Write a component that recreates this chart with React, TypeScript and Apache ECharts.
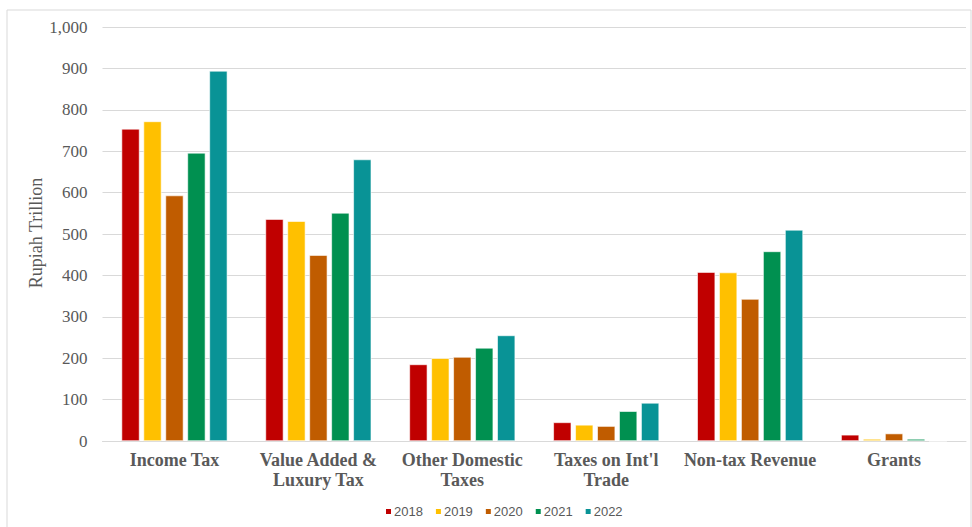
import React, { useEffect, useRef } from "react";
import * as echarts from "echarts";

const categories = [
  "Income Tax",
  "Value Added &\nLuxury Tax",
  "Other Domestic\nTaxes",
  "Taxes on Int'l\nTrade",
  "Non-tax Revenue",
  "Grants",
];
const years = ["2018", "2019", "2020", "2021", "2022"];
const v2018 = [754, 536, 185, 45, 408, 15];
const v2019 = [772, 531, 200, 39, 407, 5];
const v2020 = [593, 449, 203, 36, 343, 18];
const v2021 = [696, 551, 225, 72, 458, 5];
const v2022 = [894, 680, 255, 92, 510, 0];
const seriesValues = [v2018, v2019, v2020, v2021, v2022];
const colors = ["#C00000", "#FFC000", "#C05C00", "#009050", "#099396"];
const yTicks = { min: 0, max: 1000, interval: 100 };

export default function App() {
  const ref = useRef<HTMLDivElement>(null);
  useEffect(() => {
    document.body.style.margin = "0";
    const chart = echarts.init(ref.current!, null, { renderer: "svg" });
    chart.setOption({
      animation: false,
      backgroundColor: "#fff",
      graphic: [
        {
          type: "rect",
          shape: { x: 7, y: 10, width: 964, height: 530 },
          style: { fill: "none", stroke: "#d9d9d9", lineWidth: 1 },
          silent: true,
          z: -1,
        },
        {
          type: "text",
          x: 36,
          y: 233,
          rotation: Math.PI / 2,
          style: {
            text: "Rupiah Trillion",
            fill: "#595959",
            font: "18px 'Liberation Serif', 'Times New Roman', serif",
            align: "center",
            verticalAlign: "middle",
          },
          silent: true,
        },
      ],
      grid: { left: 102.5, right: 6, top: 27, bottom: 86, containLabel: false },
      legend: {
        data: years,
        bottom: 4,
        left: 379,
        itemWidth: 7,
        itemHeight: 7,
        itemGap: 11,
        icon: "rect",
        textStyle: {
          fontFamily: "Liberation Sans, Arial, sans-serif",
          fontSize: 13,
          color: "#595959",
          padding: [0, 0, 0, -3],
        },
      },
      xAxis: {
        type: "category",
        data: categories,
        axisLine: { lineStyle: { color: "#d9d9d9", width: 1 } },
        axisTick: { show: false },
        axisLabel: {
          interval: 0,
          margin: 9,
          fontFamily: "Liberation Serif, Times New Roman, serif",
          fontWeight: "bold",
          fontSize: 18,
          lineHeight: 20,
          color: "#595959",
        },
      },
      yAxis: {
        type: "value",
        min: yTicks.min,
        max: yTicks.max,
        interval: yTicks.interval,
        axisLine: { show: false },
        axisTick: { show: false },
        axisLabel: {
          margin: 15,
          fontFamily: "Liberation Serif, Times New Roman, serif",
          fontSize: 17,
          color: "#595959",
          formatter: (v: number) => v.toLocaleString("en-US"),
        },
        splitLine: { lineStyle: { color: "#d9d9d9", width: 1 } },
      },
      series: years.map((y, i) => ({
        name: y,
        type: "bar",
        data: seriesValues[i],
        barWidth: 18,
        barGap: "22%",
        itemStyle: { color: colors[i], borderColor: "#ffffff", borderWidth: 0.6 },
      })),
    });
    return () => chart.dispose();
  }, []);
  return <div ref={ref} style={{ width: 972, height: 527 }} />;
}
